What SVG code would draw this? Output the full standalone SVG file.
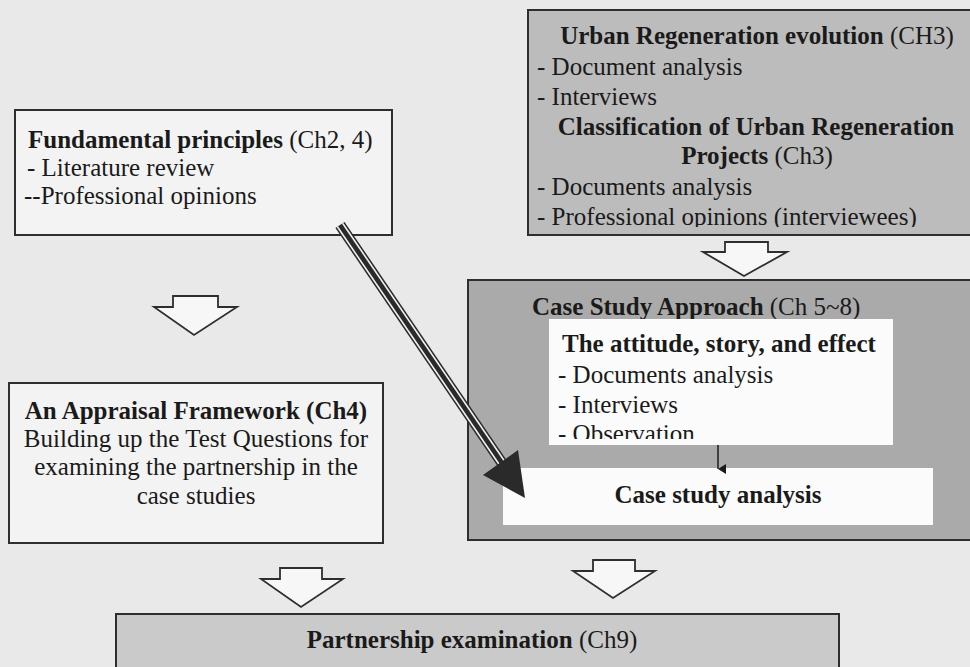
<svg xmlns="http://www.w3.org/2000/svg" width="970" height="667" viewBox="0 0 970 667">
  <style>
    text { font-family: 'Liberation Serif', 'Times New Roman', Times, serif; font-size: 25px; fill: #1a1a1a; }
    .b { font-weight: bold; }
    .box { stroke: #2e2e2e; stroke-width: 2; }
    .white { fill: #f3f3f3; }
    .grey { fill: #bcbcbc; }
    .dark { fill: #aaaaaa; }
    .light { fill: #cacaca; }
    .inner { fill: #fbfbfb; }
    .block { fill: #f7f7f7; stroke: #2e2e2e; stroke-width: 1.8; stroke-linejoin: miter; }
  </style>
  <defs>
    <clipPath id="clipUrban"><rect x="528" y="10" width="442" height="217"/></clipPath>
    <clipPath id="clipAttitude"><rect x="549" y="319" width="344" height="120"/></clipPath>
    <marker id="smallHead" viewBox="0 0 10 10" refX="5" refY="10" markerWidth="10" markerHeight="10" markerUnits="userSpaceOnUse" orient="auto">
      <path d="M0,2 L10,2 L5,10 Z" fill="#1a1a1a"/>
    </marker>
  </defs>

  <!-- page background -->
  <rect x="0" y="0" width="970" height="667" fill="#e9e9e9"/>

  <!-- Urban Regeneration evolution -->
  <g id="urban">
    <rect class="box grey" x="528" y="10" width="445" height="225"/>
    <g clip-path="url(#clipUrban)">
      <text x="757" y="44" text-anchor="middle"><tspan class="b">Urban Regeneration evolution</tspan> (CH3)</text>
      <text x="537" y="75">- Document analysis</text>
      <text x="537" y="105">- Interviews</text>
      <text x="756" y="135" text-anchor="middle" class="b">Classification of Urban Regeneration</text>
      <text x="757" y="164" text-anchor="middle"><tspan class="b">Projects</tspan> (Ch3)</text>
      <text x="537" y="195">- Documents analysis</text>
      <text x="537" y="225">- Professional opinions (interviewees)</text>
    </g>
  </g>

  <!-- Fundamental principles -->
  <g id="fundamental">
    <rect class="box white" x="15" y="110" width="377" height="125"/>
    <text x="28" y="148"><tspan class="b">Fundamental principles</tspan> (Ch2, 4)</text>
    <text x="27" y="176">- Literature review</text>
    <text x="24" y="204">--Professional opinions</text>
  </g>

  <!-- Appraisal framework -->
  <g id="appraisal">
    <rect class="box white" x="9" y="383" width="374" height="160"/>
    <text x="196" y="419" text-anchor="middle" class="b">An Appraisal Framework (Ch4)</text>
    <text x="196" y="447" text-anchor="middle">Building up the Test Questions for</text>
    <text x="196" y="475" text-anchor="middle">examining the partnership in the</text>
    <text x="196" y="504" text-anchor="middle">case studies</text>
  </g>

  <!-- Case study approach -->
  <g id="casestudy">
    <rect class="box dark" x="468" y="280" width="505" height="260"/>
    <text x="532" y="315"><tspan class="b">Case Study Approach</tspan> (Ch 5~8)</text>
  </g>

  <g id="attitude">
    <rect class="inner" x="549" y="319" width="344" height="126"/>
    <g clip-path="url(#clipAttitude)">
      <text x="562" y="352" class="b">The attitude, story, and effect</text>
      <text x="558" y="383">- Documents analysis</text>
      <text x="558" y="413">- Interviews</text>
      <text x="558" y="442">- Observation</text>
    </g>
  </g>

  <g id="analysis">
    <rect class="inner" x="503" y="468" width="430" height="57"/>
    <text x="718" y="503" text-anchor="middle" class="b">Case study analysis</text>
  </g>

  <!-- Partnership examination -->
  <g id="partnership">
    <rect class="box light" x="116" y="614" width="723" height="60"/>
    <text x="472" y="648" text-anchor="middle" font-size="23.5"><tspan class="b">Partnership examination</tspan> (Ch9)</text>
  </g>

  <!-- connectors -->
  <g id="connectors">
    <!-- hollow block arrows -->
    <path class="block" d="M173,296 L218,296 L218,307 L237,307 L194,335 L154,307 L173,307 Z"/>
    <path class="block" d="M725,242 L768,242 L768,252 L787,252 L744,276 L703,252 L725,252 Z"/>
    <path class="block" d="M280,568 L322,568 L322,579 L343,579 L301,607 L261,579 L280,579 Z"/>
    <path class="block" d="M593,560 L635,560 L635,571 L655,571 L613,598 L573,571 L593,571 Z"/>

    <!-- small arrow between attitude and analysis -->
    <line x1="718" y1="445" x2="718" y2="469" stroke="#1a1a1a" stroke-width="1.5" marker-end="url(#smallHead)"/>

    <!-- triple-line diagonal arrow -->
    <line x1="340" y1="225" x2="502" y2="463" stroke="#2a2a2a" stroke-width="11"/>
    <line x1="337.4" y1="226.8" x2="499.4" y2="464.8" stroke="#f0f0f0" stroke-width="1.6"/>
    <line x1="342.6" y1="223.2" x2="504.6" y2="461.2" stroke="#f0f0f0" stroke-width="1.6"/>
    <path d="M483,475 L518,450 L525,498 Z" fill="#2a2a2a"/>
  </g>
</svg>
